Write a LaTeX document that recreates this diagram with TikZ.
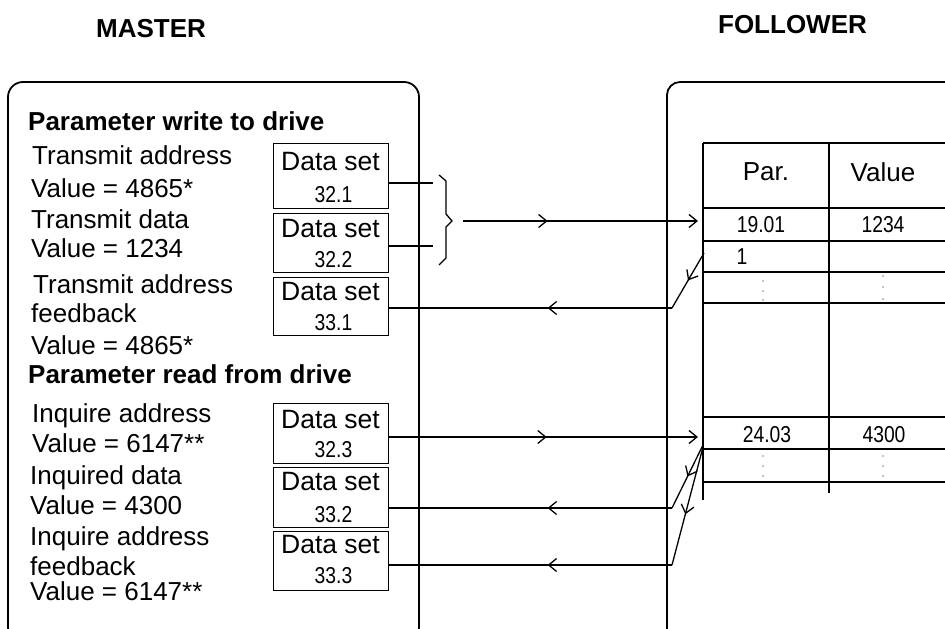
\documentclass[tikz,border=0pt]{standalone}
\usepackage{fontspec}
\setmainfont{Liberation Sans}
\newfontfamily\narrowfam[FakeStretch=0.84]{Liberation Sans}
\usetikzlibrary{arrows.meta,decorations.markings}
\tikzset{
  >={Straight Barb[length=8pt,width=13pt]},
  lbl/.style={anchor=base west, inner sep=0pt, font=\fontsize{26}{30}\selectfont},
  head/.style={anchor=base west, inner sep=0pt, font=\bfseries\fontsize{26}{30}\selectfont},
  ttl/.style={anchor=base, inner sep=0pt, font=\bfseries\fontsize{26}{30}\selectfont},
  dsbox/.style={draw, line width=1.3pt, anchor=north west, inner sep=0pt, minimum width=115pt},
  dstxt/.style={anchor=base, inner sep=0pt, font=\fontsize{26.5}{30}\selectfont},
  dsnum/.style={anchor=base, inner sep=0pt, font=\narrowfam\fontsize{23}{26}\selectfont},
  cellbig/.style={inner sep=0pt, font=\fontsize{26}{30}\selectfont},
  cell/.style={inner sep=0pt, font=\narrowfam\fontsize{23}{26}\selectfont},
  conn/.style={line width=1.3pt},
  frame/.style={line width=1.8pt},
  grid/.style={line width=1.4pt},
  midarrow/.style={postaction={decorate}, decoration={markings, mark=at position #1 with {\arrow{>}}}},
}
\begin{document}
\begin{tikzpicture}[x=1pt,y=-1pt]
\useasboundingbox (0,0) rectangle (945,629);
\clip (0,0) rectangle (945,629);

% titles
\node[ttl] (tm) at (151,37) {MASTER};
\node[ttl] (tf) at (792.5,33) {FOLLOWER};

% outer frames
\draw[frame, rounded corners=15pt] (8,82) rectangle (419,642);
\draw[frame, rounded corners=13pt] (667,82) rectangle (1010,642);

% left texts
\node[head] (h1) at (28,130) {Parameter write to drive};
\node[lbl] (l1) at (32,164) {Transmit address};
\node[lbl] (l2) at (31,197) {Value = 4865*};
\node[lbl] (l3) at (31,228) {Transmit data};
\node[lbl] (l4) at (31,257) {Value = 1234};
\node[lbl] (l5) at (33,293) {Transmit address};
\node[lbl] (l6) at (31,322) {feedback};
\node[lbl] (l7) at (31,354) {Value = 4865*};
\node[head] (h2) at (28,383) {Parameter read from drive};
\node[lbl] (l8) at (32,422) {Inquire address};
\node[lbl] (l9) at (32,452) {Value = 6147**};
\node[lbl] (l10) at (30,484) {Inquired data};
\node[lbl] (l11) at (30,514) {Value = 4300};
\node[lbl] (l12) at (30,545) {Inquire address};
\node[lbl] (l13) at (30,575) {feedback};
\node[lbl] (l14) at (30,600) {Value = 6147**};

% data set boxes
\node[dsbox, minimum height=65pt] (b1) at (273,143) {};
\node[dsbox, minimum height=59pt] (b2) at (273,213) {};
\node[dsbox, minimum height=58pt] (b3) at (273,277) {};
\node[dsbox, minimum height=60pt] (b4) at (273,403) {};
\node[dsbox, minimum height=60pt] (b5) at (273,467) {};
\node[dsbox, minimum height=59pt] (b6) at (273,531) {};

\node[dstxt] (d1) at (330.5,170) {Data set};
\node[dsnum] (n1) at (333.5,202) {32.1};
\node[dstxt] (d2) at (330.5,237) {Data set};
\node[dsnum] (n2) at (333.5,267) {32.2};
\node[dstxt] (d3) at (330.5,300) {Data set};
\node[dsnum] (n3) at (333.5,330) {33.1};
\node[dstxt] (d4) at (330.5,428) {Data set};
\node[dsnum] (n4) at (333.5,457) {32.3};
\node[dstxt] (d5) at (330.5,490) {Data set};
\node[dsnum] (n5) at (333.5,522) {33.2};
\node[dstxt] (d6) at (330.5,553) {Data set};
\node[dsnum] (n6) at (333.5,583) {33.3};

% table
\draw[grid] (703,143) -- (703,500);
\draw[grid] (829,143) -- (829,493);
\foreach \yy in {143,208,241,272,303,417,449,482}
  \draw[grid] (703,\yy) -- (960,\yy);

\node[cellbig] (cp) at (766,172) {Par.};
\node[cellbig] (cv) at (883,172) {Value};
\node[cell] (c1) at (761,225) {19.01};
\node[cell] (c2) at (883,225) {1234};
\node[cell] (c3) at (742,257) {1};
\node[cell] (c4) at (767,435) {24.03};
\node[cell] (c5) at (884,435) {4300};

\foreach \yy in {281,291,300} \fill (763,\yy) circle (0.7pt);
\foreach \yy in {276,287,299} \fill (883,\yy) circle (0.7pt);
\foreach \yy in {456,466,476} {\fill (763,\yy) circle (0.7pt); \fill (883,\yy) circle (0.7pt);}

% connectors: write
\coordinate (j1) at (433,183);
\coordinate (j2) at (433,246);
\draw[conn] (b1.east |- j1) -- (j1);
\draw[conn] (b2.east |- j2) -- (j2);
\draw[conn] (439,175) -- (446,181) -- (446,214) -- (452,221) -- (446,227) -- (446,258) -- (439,265);
\coordinate (w1) at (463,221);
\coordinate (t1) at (698,221);
\draw[conn, ->, midarrow=0.36] (w1) -- (t1);

% feedback of write
\coordinate (s3) at (704,253);
\coordinate (k3) at (672,308);
\draw[conn, midarrow=0.5] (s3) -- (k3);
\draw[conn, midarrow=0.44] (k3) -- (b3.east |- k3);

% read
\coordinate (t4) at (698,437);
\draw[conn, ->, midarrow=0.51] (b4.east |- t4) -- (t4);

\coordinate (s5) at (703,445);
\coordinate (k5) at (672,508);
\draw[conn, midarrow=0.5] (s5) -- (k5);
\draw[conn, midarrow=0.44] (k5) -- (b5.east |- k5);

\coordinate (s6) at (703,447);
\coordinate (k6) at (672,565);
\draw[conn, midarrow=0.57] (s6) -- (k6);
\draw[conn, midarrow=0.44] (k6) -- (b6.east |- k6);
\end{tikzpicture}
\end{document}
